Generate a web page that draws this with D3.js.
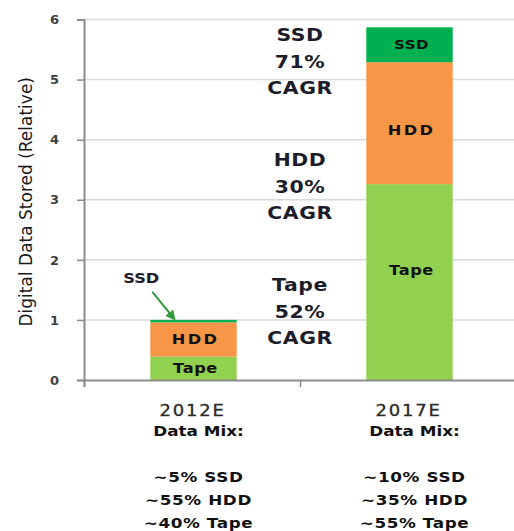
<!DOCTYPE html>
<html>
<head>
<meta charset="utf-8">
<script src="https://cdn.jsdelivr.net/npm/d3@7"></script>
<style>
  body { margin: 0; background: #fff; }
  text { font-family: "DejaVu Sans", Verdana, sans-serif; }
</style>
</head>
<body>
<div id="chart"></div>
<script>
// chart values
const years = ['2012E', '2017E'];
const tape = [0.39, 3.26];
const hdd = [0.57, 2.03];
const ssd = [0.04, 0.58];
const yTicks = [0, 1, 2, 3, 4, 5, 6];
const mixLines = [
    ['~5% SSD', '~55% HDD', '~40% Tape'],
    ['~10% SSD', '~35% HDD', '~55% Tape']
];
const cagrNames = ['SSD', 'HDD', 'Tape'];
const cagrRates = ['71%', '30%', '52%'];

const seriesNames = ['Tape', 'HDD', 'SSD'];
const colors = { Tape: '#92d050', HDD: '#f79646', SSD: '#00b050' };

const width = 514;
const height = 531;
const margin = { left: 84, top: 19.5, bottom: 380 };

// the source text is drawn a bit wider than the font, so stretch it sideways
const sx = 1.2;
const stretch = (px, py) => 'translate(' + px + ',' + py + ') scale(' + sx + ',1)';

const svg = d3.select('#chart')
    .append('svg')
    .attr('width', width)
    .attr('height', height);

// build the stack rows from the arrays
const rows = years.map((yr, i) => ({ year: yr, Tape: tape[i], HDD: hdd[i], SSD: ssd[i] }));
const stacked = d3.stack().keys(seriesNames)(rows);

const y = d3.scaleLinear().domain([0, 6]).range([margin.bottom, margin.top]);
const x = d3.scaleBand().domain(years).range([margin.left + 1.5, 517.5])
    .paddingInner(0.6).paddingOuter(0.3);
const xEdge = d3.scaleLinear().domain([0, years.length]).range([margin.left, 516]);

// gridlines
svg.append('g')
    .selectAll('line')
    .data(yTicks.filter(d => d > 0))
    .join('line')
    .attr('x1', margin.left)
    .attr('x2', width)
    .attr('y1', d => y(d))
    .attr('y2', d => y(d))
    .attr('stroke', '#d9d9d9')
    .attr('stroke-width', 1.5);

// bars
svg.append('g')
    .selectAll('g')
    .data(stacked)
    .join('g')
    .attr('fill', d => colors[d.key])
    .selectAll('rect')
    .data(d => d)
    .join('rect')
    .attr('x', d => x(d.data.year))
    .attr('width', x.bandwidth())
    .attr('y', d => y(d[1]))
    .attr('height', d => y(d[0]) - y(d[1]));

// labels inside the bars (only where the segment is tall enough)
// in the tall bar the HDD / Tape labels sit a little off the middle
const nudge = { '2017E': { HDD: 7, Tape: -12 } };
const segLabels = [];
stacked.forEach(s => s.forEach(d => {
    if (y(d[0]) - y(d[1]) > 18) segLabels.push({ key: s.key, d: d });
}));
svg.append('g')
    .selectAll('text')
    .data(segLabels)
    .join('text')
    .attr('transform', d => stretch(x(d.d.data.year) + x.bandwidth() / 2 + 2,
        (y(d.d[0]) + y(d.d[1])) / 2 + ((nudge[d.d.data.year] || {})[d.key] || 0)))
    .attr('dy', '0.36em')
    .attr('text-anchor', 'middle')
    .attr('font-size', d => d.key === 'SSD' ? 12.5 : 13.5)
    .attr('font-weight', 'bold')
    .attr('letter-spacing', d => d.key === 'HDD' ? 2 : 0.5)
    .attr('fill', '#111')
    .text(d => d.key);

// y axis
const yAxis = svg.append('g')
    .attr('transform', 'translate(' + margin.left + ',0)')
    .call(d3.axisLeft(y).tickValues(yTicks).tickSize(7).tickPadding(18).tickFormat(d3.format('d')));
yAxis.select('.domain').attr('stroke', '#8c8c8c').attr('stroke-width', 2);
yAxis.selectAll('.tick line').attr('stroke', '#8c8c8c').attr('stroke-width', 1.5);
yAxis.selectAll('.tick text')
    .attr('font-size', 13)
    .attr('font-weight', 'bold')
    .attr('fill', '#404040')
    .style('font-family', '"DejaVu Sans", sans-serif');

// x axis with ticks on the category edges
const xAxis = svg.append('g')
    .attr('transform', 'translate(0,' + margin.bottom + ')')
    .call(d3.axisBottom(xEdge).tickValues(d3.range(years.length + 1)).tickSize(7).tickFormat(''));
xAxis.select('.domain').attr('stroke', '#8c8c8c').attr('stroke-width', 2);
xAxis.selectAll('.tick line').attr('stroke', '#8c8c8c').attr('stroke-width', 1.5);

// y axis title
svg.append('text')
    .attr('transform', 'translate(32,' + ((y(0) + y(6)) / 2 + 2) + ') rotate(-90)')
    .attr('text-anchor', 'middle')
    .attr('font-size', 17)
    .attr('fill', '#1a1a1a')
    .text('Digital Data Stored (Relative)');

// category labels under the axis
const cat = svg.append('g')
    .selectAll('g')
    .data(years)
    .join('g')
    .attr('transform', d => 'translate(' + (x(d) + x.bandwidth() / 2) + ',0)');

cat.append('text')
    .attr('transform', stretch(-1, 411))
    .attr('dy', '0.36em')
    .attr('text-anchor', 'middle')
    .attr('font-size', 15)
    .attr('letter-spacing', 1.5)
    .attr('fill', '#2a2a2a')
    .attr('stroke', '#2a2a2a')
    .attr('stroke-width', 0.3)
    .text(d => d);

cat.append('text')
    .attr('transform', stretch(5, 431))
    .attr('dy', '0.36em')
    .attr('text-anchor', 'middle')
    .attr('font-size', 14)
    .attr('font-weight', 'bold')
    .attr('fill', '#111')
    .text('Data Mix:');

cat.each(function(d, i) {
    d3.select(this).selectAll('text.mix')
        .data(mixLines[i])
        .join('text')
        .attr('class', 'mix')
        .attr('transform', (m, k) => stretch(5, 477 + k * 23))
        .attr('dy', '0.36em')
        .attr('text-anchor', 'middle')
        .attr('font-size', 14)
        .attr('font-weight', 'bold')
        .attr('letter-spacing', 0.5)
        .attr('fill', '#111')
        .text(m => m);
});

// CAGR notes between the bars
const noteX = xEdge(1);
const noteTop = [5.74, 3.66, 1.58];
const notes = svg.append('g')
    .selectAll('g')
    .data(cagrNames)
    .join('g')
    .attr('transform', (d, i) => 'translate(' + noteX + ',' + y(noteTop[i]) + ')');
notes.selectAll('text')
    .data((d, i) => [d, cagrRates[i], 'CAGR'])
    .join('text')
    .attr('transform', (d, k) => stretch(0, k * 26.5))
    .attr('dy', '0.36em')
    .attr('text-anchor', 'middle')
    .attr('font-size', 17)
    .attr('font-weight', 'bold')
    .attr('letter-spacing', 0.5)
    .attr('fill', '#1c1c2a')
    .text(d => d);

// SSD callout with arrow for the small bar
svg.append('defs').append('marker')
    .attr('id', 'arrow')
    .attr('viewBox', '0 0 10 10')
    .attr('refX', 8)
    .attr('refY', 5)
    .attr('markerWidth', 5)
    .attr('markerHeight', 5)
    .attr('orient', 'auto')
    .append('path')
    .attr('d', 'M0,0L10,5L0,10z')
    .attr('fill', '#2f9a3a');

const ssdTop = stacked[2][0][1];
const arrowEndX = x(years[0]) + 24;
svg.append('line')
    .attr('x1', arrowEndX - 22)
    .attr('y1', y(ssdTop) - 28)
    .attr('x2', arrowEndX)
    .attr('y2', y(ssdTop) - 1)
    .attr('stroke', '#2f9a3a')
    .attr('stroke-width', 2)
    .attr('marker-end', 'url(#arrow)');

svg.append('text')
    .attr('transform', stretch(arrowEndX - 33, y(ssdTop) - 42))
    .attr('dy', '0.36em')
    .attr('text-anchor', 'middle')
    .attr('font-size', 13.5)
    .attr('font-weight', 'bold')
    .attr('fill', '#1c1c2a')
    .text('SSD');
</script>
</body>
</html>
